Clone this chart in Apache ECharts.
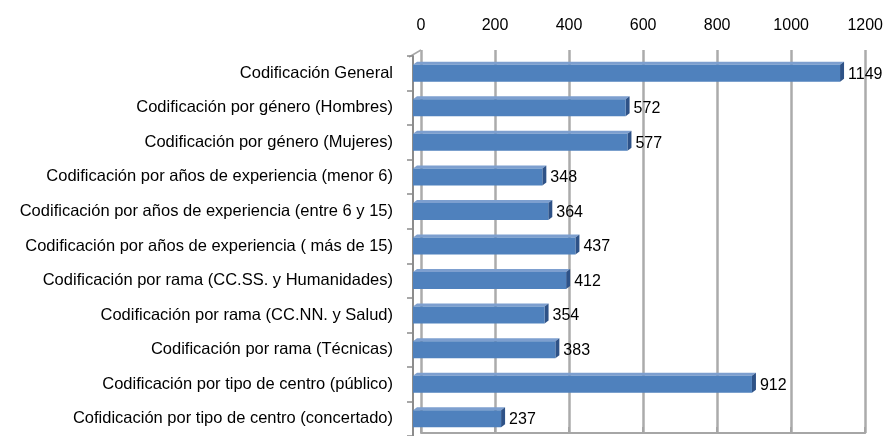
<!DOCTYPE html>
<html>
<head>
<meta charset="utf-8">
<script src="https://cdn.jsdelivr.net/npm/echarts@6/dist/echarts.min.js"></script>
<style>html,body{margin:0;padding:0;background:#fff}#c{width:886px;height:436px}</style>
</head>
<body>
<div id="c"></div>
<script>
const categories = [
  'Codificación General',
  'Codificación por género (Hombres)',
  'Codificación por género (Mujeres)',
  'Codificación por años de experiencia (menor 6)',
  'Codificación por años de experiencia (entre 6 y 15)',
  'Codificación por años de experiencia ( más de 15)',
  'Codificación por rama (CC.SS. y Humanidades)',
  'Codificación por rama (CC.NN. y Salud)',
  'Codificación por rama (Técnicas)',
  'Codificación por tipo de centro (público)',
  'Cofidicación por tipo de centro (concertado)'
];
const values = [1149, 572, 577, 348, 364, 437, 412, 354, 383, 912, 237];
const axisMin = 0, axisMax = 1200, axisStep = 200;

const FONT = 'Liberation Sans';
const chart = echarts.init(document.getElementById('c'), null, {renderer: 'canvas'});
chart.setOption({
  animation: false,
  grid: [
    {left: 421, width: 446, top: 50, bottom: 3},
    {left: 413, width: 446, top: 56, height: 382}
  ],
  xAxis: [
    {gridIndex: 0, type: 'value', position: 'top', min: axisMin, max: axisMax, interval: axisStep,
     axisLine: {show: true, lineStyle: {color: '#A6A6A6', width: 2}},
     axisTick: {show: true, inside: false, length: 6, lineStyle: {color: '#A6A6A6', width: 2}},
     axisLabel: {fontFamily: FONT, fontSize: 16, color: '#000', margin: 16, formatter: v => String(v)},
     splitLine: {show: true, lineStyle: {color: '#ABABAB', width: 2.5}}},
    {gridIndex: 1, type: 'value', min: axisMin, max: axisMax, interval: axisStep, show: false,
     splitLine: {show: false}}
  ],
  yAxis: [
    {gridIndex: 0, type: 'value', show: false, splitLine: {show: false}},
    {gridIndex: 1, type: 'category', data: categories, inverse: true, offset: 4,
     axisLine: {show: true, lineStyle: {color: '#8C8C8C', width: 2}},
     axisTick: {show: true, length: 6, alignWithLabel: false, lineStyle: {color: '#8C8C8C', width: 1.5}},
     axisLabel: {fontFamily: FONT, fontSize: 16.5, color: '#000', margin: 16},
     splitLine: {show: false}}
  ],
  series: [{
    type: 'custom',
    xAxisIndex: 1, yAxisIndex: 1,
    data: values.map((v, i) => [v, i]),
    encode: {x: 0, y: 1},
    renderItem: function (params, api) {
      const v = api.value(0);
      const idx = api.value(1);
      const s = api.coord([0, idx]);
      const e = api.coord([v, idx]);
      const h = 17, dx = 4, dy = 3;
      const y0 = e[1] - h / 2;
      return {
        type: 'group',
        children: [
          {type: 'polygon', shape: {points: [[s[0], y0], [e[0], y0], [e[0] + dx, y0 - dy], [s[0] + dx, y0 - dy]]},
           style: {fill: '#7D9FCF'}},
          {type: 'polygon', shape: {points: [[e[0], y0], [e[0] + dx, y0 - dy], [e[0] + dx, y0 + h - dy], [e[0], y0 + h]]},
           style: {fill: '#2E5287'}},
          {type: 'rect', shape: {x: s[0], y: y0, width: e[0] - s[0], height: h},
           style: {fill: '#4F81BD'}},
          {type: 'text', x: e[0] + 8, y: e[1] + 1,
           style: {text: String(v), fill: '#000', font: '16px "' + FONT + '"', verticalAlign: 'middle', align: 'left'}}
        ]
      };
    }
  }],
  graphic: [
    {type: 'line', shape: {x1: 409, y1: 57, x2: 421, y2: 50}, style: {stroke: '#A6A6A6', lineWidth: 1.5}}
  ]
});
</script>
</body>
</html>
